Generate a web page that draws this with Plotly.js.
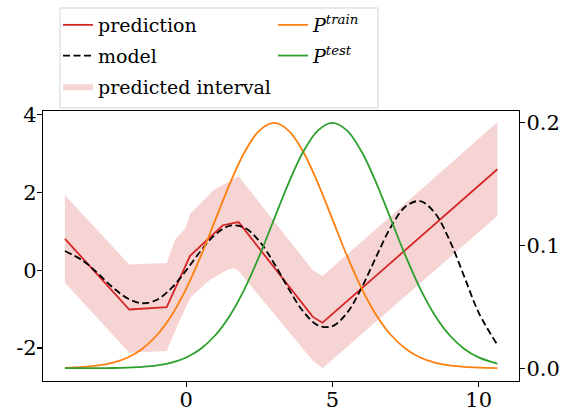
<!DOCTYPE html>
<html>
<head>
<meta charset="utf-8">
<script src="https://cdn.plot.ly/plotly-3.0.1.min.js"></script>
<style>html,body{margin:0;padding:0;background:#fff;}#chart{width:565px;height:411px;}</style>
</head>
<body>
<div id="chart"></div>
<script>
// prediction (piecewise linear)
const predX = [-4.15, -1.95, -0.67, 0.13, 1.25, 1.79, 4.33, 4.66, 10.64];
const predY = [0.81, -1.01, -0.95, 0.37, 1.16, 1.24, -1.20, -1.35, 2.60];
// predicted interval edges
const upX = [-4.15, -1.95, -0.67, -0.38, -0.03, 0.14, 0.93, 1.79, 4.33, 4.66, 10.64];
const upY = [1.93, 0.15, 0.19, 0.79, 1.08, 1.46, 2.06, 2.42, 0.0, -0.15, 3.81];
const lowX = [-4.15, -1.95, -0.67, -0.26, 0.14, 0.82, 1.44, 1.65, 1.79, 4.33, 4.66, 10.64];
const lowY = [-0.32, -2.12, -2.08, -1.36, -0.71, -0.24, 0.02, 0.05, -0.02, -2.33, -2.52, 1.40];
// model (dashed)
const modelX = [-4.15, -3.5, -3, -2.5, -2, -1.5, -1, -0.5, 0, 0.5, 1, 1.5, 2, 2.5, 3, 3.5, 4, 4.5, 5, 5.5, 6, 6.5, 7, 7.5, 8, 8.5, 9, 9.5, 10, 10.64];
const modelY = [0.495, 0.228, -0.099, -0.449, -0.727, -0.848, -0.757, -0.455, 0.0, 0.503, 0.926, 1.147, 1.091, 0.748, 0.183, -0.474, -1.060, -1.417, -1.438, -1.094, -0.447, 0.355, 1.117, 1.641, 1.781, 1.477, 0.783, -0.147, -1.088, -1.92];
// densities (right axis)
const densX = modelX;
const pTrain = [0.00033, 0.00102, 0.00222, 0.00455, 0.00876, 0.01587, 0.02700, 0.04314, 0.06476, 0.09132, 0.1210, 0.1506, 0.1760, 0.1933, 0.1995, 0.1933, 0.1760, 0.1506, 0.1210, 0.09132, 0.06476, 0.04314, 0.02700, 0.01587, 0.00876, 0.00455, 0.00222, 0.00102, 0.00044, 0.00014];
const pTest = [0.000006, 0.000024, 0.000067, 0.000177, 0.00044, 0.00102, 0.00222, 0.00455, 0.00876, 0.01587, 0.02700, 0.04314, 0.06476, 0.09132, 0.1210, 0.1506, 0.1760, 0.1933, 0.1995, 0.1933, 0.1760, 0.1506, 0.1210, 0.09132, 0.06476, 0.04314, 0.02700, 0.01587, 0.00876, 0.00374];

const xTicks = [0, 5, 10];
const yTicks = [-2, 0, 2, 4];
const yTickText = ['-2', '0', '2', '4'];
const y2Ticks = [0.0, 0.1, 0.2];
const y2TickText = ['0.0', '0.1', '0.2'];

const FONT = 'DejaVu Serif';

const bandX = upX.concat(lowX.slice().reverse());
const bandY = upY.concat(lowY.slice().reverse());

const traces = [
  {x: bandX, y: bandY, type: 'scatter', mode: 'lines', fill: 'toself',
   fillcolor: 'rgba(214,39,40,0.2)', line: {width: 0, color: 'rgba(0,0,0,0)'},
   name: 'predicted interval', legend: 'legend', legendrank: 3, legendgroup: 'c', hoverinfo: 'skip'},
  {x: predX, y: predY, type: 'scatter', mode: 'lines', line: {color: '#d62728', width: 1.8},
   name: 'prediction', legend: 'legend', legendrank: 1, legendgroup: 'a'},
  {x: modelX, y: modelY, type: 'scatter', mode: 'lines', line: {color: '#000000', width: 1.8, dash: '7px,3.5px', shape: 'spline'},
   name: 'model', legend: 'legend', legendrank: 2, legendgroup: 'b'},
  {x: densX, y: pTrain, type: 'scatter', mode: 'lines', yaxis: 'y2', line: {color: '#ff7f0e', width: 1.8, shape: 'spline'},
   name: '<i>P</i><sup><i>train</i></sup>', legend: 'legend2', legendrank: 1, legendgroup: 'd'},
  {x: densX, y: pTest, type: 'scatter', mode: 'lines', yaxis: 'y2', line: {color: '#2ca02c', width: 1.8, shape: 'spline'},
   name: '<i>P</i><sup><i>test</i></sup>', legend: 'legend2', legendrank: 2, legendgroup: 'e'}
];

const axisCommon = {showgrid: false, zeroline: false, showline: true, linecolor: '#000', linewidth: 1.2,
  ticks: 'outside', ticklen: 5, tickwidth: 1.2, tickcolor: '#000', tickfont: {family: FONT, size: 21, color: '#000'}};

const layout = {
  width: 565, height: 411,
  margin: {l: 43, r: 46, t: 111, b: 30, pad: 0, autoexpand: false},
  paper_bgcolor: '#fff', plot_bgcolor: '#fff',
  font: {family: FONT, color: '#000'},
  showlegend: true,
  xaxis: Object.assign({}, axisCommon, {range: [-4.9, 11.38], tickmode: 'array', tickvals: xTicks, ticktext: xTicks.map(String), mirror: true, ticklabelstandoff: -5}),
  yaxis: Object.assign({}, axisCommon, {range: [-2.85, 4.10], tickmode: 'array', tickvals: yTicks, ticktext: yTickText, mirror: false, ticklabelstandoff: -4}),
  yaxis2: Object.assign({}, axisCommon, {range: [-0.0104, 0.2092], overlaying: 'y', side: 'right', tickmode: 'array', tickvals: y2Ticks, ticktext: y2TickText, ticklabelstandoff: -3}),
  legend: {xref: 'container', yref: 'container', x: 58/565, y: 1 - 6/411, xanchor: 'left', yanchor: 'top',
    bgcolor: 'rgba(0,0,0,0)', borderwidth: 0, font: {family: FONT, size: 19, color: '#000'},
    traceorder: 'grouped', tracegroupgap: 3, itemwidth: 30},
  legend2: {xref: 'container', yref: 'container', x: 273/565, y: 1 - 6/411, xanchor: 'left', yanchor: 'top',
    bgcolor: 'rgba(0,0,0,0)', borderwidth: 0, font: {family: FONT, size: 19, color: '#000'},
    traceorder: 'grouped', tracegroupgap: 3, itemwidth: 30},
  shapes: [{type: 'rect', xref: 'paper', yref: 'paper', x0: (60-43)/476, x1: (378-43)/476, y0: (381-108)/270, y1: (381-8)/270,
    line: {color: '#d5d5d5', width: 1}, fillcolor: 'rgba(255,255,255,0.8)', layer: 'below'}]
};

Plotly.newPlot('chart', traces, layout, {staticPlot: true, displayModeBar: false});
</script>
</body>
</html>
